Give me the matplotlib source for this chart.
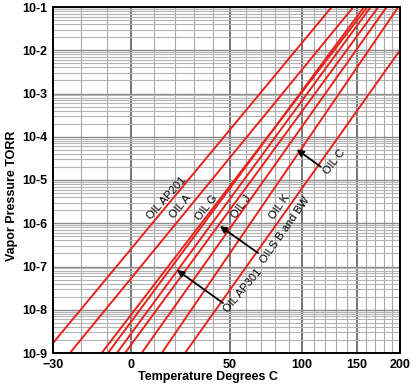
import numpy as np
import matplotlib.pyplot as plt
from matplotlib.ticker import FixedLocator, NullFormatter, FixedFormatter

plt.rcParams['font.family'] = ['Liberation Sans', 'DejaVu Sans']

# each oil line: two points (deg C, torr)
oils = ['AP201', 'A', 'G', 'G2', 'AP301', 'B/BW', 'J', 'C', 'K']
t_low = [-30, -24.1, -12.2, -9.7, -6.1, -2.7, 4.5, 13.7, 25.2]
p_low = [1.7e-9, 1e-9, 1e-9, 1e-9, 1e-9, 1e-9, 1e-9, 1e-9, 1e-9]
t_high = [125.7, 146.6, 161.3, 157.7, 165.0, 173.6, 183.4, 197.8, 200]
p_high = [1e-1, 1e-1, 1e-1, 1e-1, 1e-1, 1e-1, 1e-1, 1e-1, 1.0e-2]

# labels written along the lines
lab_text = ['OIL AP201', 'OIL A', 'OIL G', 'OIL J', 'OIL K']
lab_t = [16.2, 23.1, 36.9, 56.9, 83.4]
lab_p = [3.8e-6, 2.4e-6, 2.25e-6, 2.4e-6, 2.4e-6]
lab_rot = [48, 50, 52, 54, 55]

# labels with arrows
arr_text = ['OIL AP301', 'OILS B and BW', 'OIL C']
arr_t = [58.2, 87.1, 127.9]
arr_p = [2.72e-8, 6.98e-7, 2.6e-5]
arr_rot = [50, 55, 52]
tail_t = [46.0, 68.0, 115.9]
tail_p = [1.43e-8, 2.05e-7, 2.03e-5]
head_t = [21.1, 44.2, 96.0]
head_p = [8.3e-8, 8.6e-7, 5.1e-5]

xticks = [-30, 0, 50, 100, 150, 200]
ydecades = [-9, -8, -7, -6, -5, -4, -3, -2, -1]
ylabels = ['10%d' % d for d in ydecades]


def fwd(t):
    t = np.asarray(t, dtype=float)
    with np.errstate(divide='ignore', invalid='ignore'):
        return -1000.0 / (t + 273.15)


def inv(v):
    v = np.asarray(v, dtype=float)
    with np.errstate(divide='ignore', invalid='ignore'):
        return -1000.0 / v - 273.15


fig = plt.figure(figsize=(4.2, 3.9), dpi=100)
ax = fig.add_axes([53/420, 37/390, 347/420, 346/390])

ax.set_xscale('function', functions=(fwd, inv))
ax.set_yscale('log')
ax.set_xlim(-30, 200)
ax.set_ylim(1e-9, 1e-1)

for i in range(len(oils)):
    ax.plot([t_low[i], t_high[i]], [p_low[i], p_high[i]], color='#e8211b', lw=1.4,
            solid_capstyle='butt', zorder=3)

for i in range(len(lab_text)):
    ax.text(lab_t[i], lab_p[i], lab_text[i], rotation=lab_rot[i], fontsize=8,
            ha='center', va='center', rotation_mode='anchor', zorder=4)

for i in range(len(arr_text)):
    ax.annotate('', xy=(head_t[i], head_p[i]), xytext=(tail_t[i], tail_p[i]),
                arrowprops=dict(arrowstyle='-|>', color='black', lw=1.3,
                                mutation_scale=10, shrinkA=0, shrinkB=0), zorder=4)
    ax.text(arr_t[i], arr_p[i], arr_text[i], rotation=arr_rot[i], fontsize=8,
            ha='center', va='center', rotation_mode='anchor', zorder=4)

# grid
ax.xaxis.set_major_locator(FixedLocator(xticks))
ax.xaxis.set_minor_locator(FixedLocator(list(range(-30, 201, 10))))
ax.xaxis.set_minor_formatter(NullFormatter())
ax.yaxis.set_major_locator(FixedLocator([10.0 ** d for d in ydecades]))
ax.yaxis.set_major_formatter(FixedFormatter(ylabels))
ax.yaxis.set_minor_locator(FixedLocator([k * 10.0 ** d for d in ydecades[:-1] for k in range(2, 10)]))
ax.yaxis.set_minor_formatter(NullFormatter())

ax.grid(which='minor', axis='x', color='#a8a8a8', lw=0.8)
ax.grid(which='major', axis='x', color='#6a6a6a', lw=1.3)
ax.grid(which='minor', axis='y', color='#b4b4b4', lw=0.8)
ax.grid(which='major', axis='y', color='#8c8c8c', lw=1.0)
ax.set_axisbelow(True)

ax.tick_params(which='both', length=0)
ax.tick_params(axis='x', pad=4, labelsize=9)
ax.tick_params(axis='y', pad=4, labelsize=9)
for lbl in ax.get_xticklabels() + ax.get_yticklabels():
    lbl.set_fontweight('bold')

for s in ax.spines.values():
    s.set_linewidth(1.4)
    s.set_color('black')
    s.set_zorder(5)

fig.text(208/420, 1 - 377/390, 'Temperature Degrees C', fontsize=9, fontweight='bold',
         ha='center', va='center')
fig.text(12.5/420, 1 - 196/390, 'Vapor Pressure TORR', fontsize=9, fontweight='bold',
         ha='center', va='center', rotation=90)

fig.savefig('out.png', dpi=100)
